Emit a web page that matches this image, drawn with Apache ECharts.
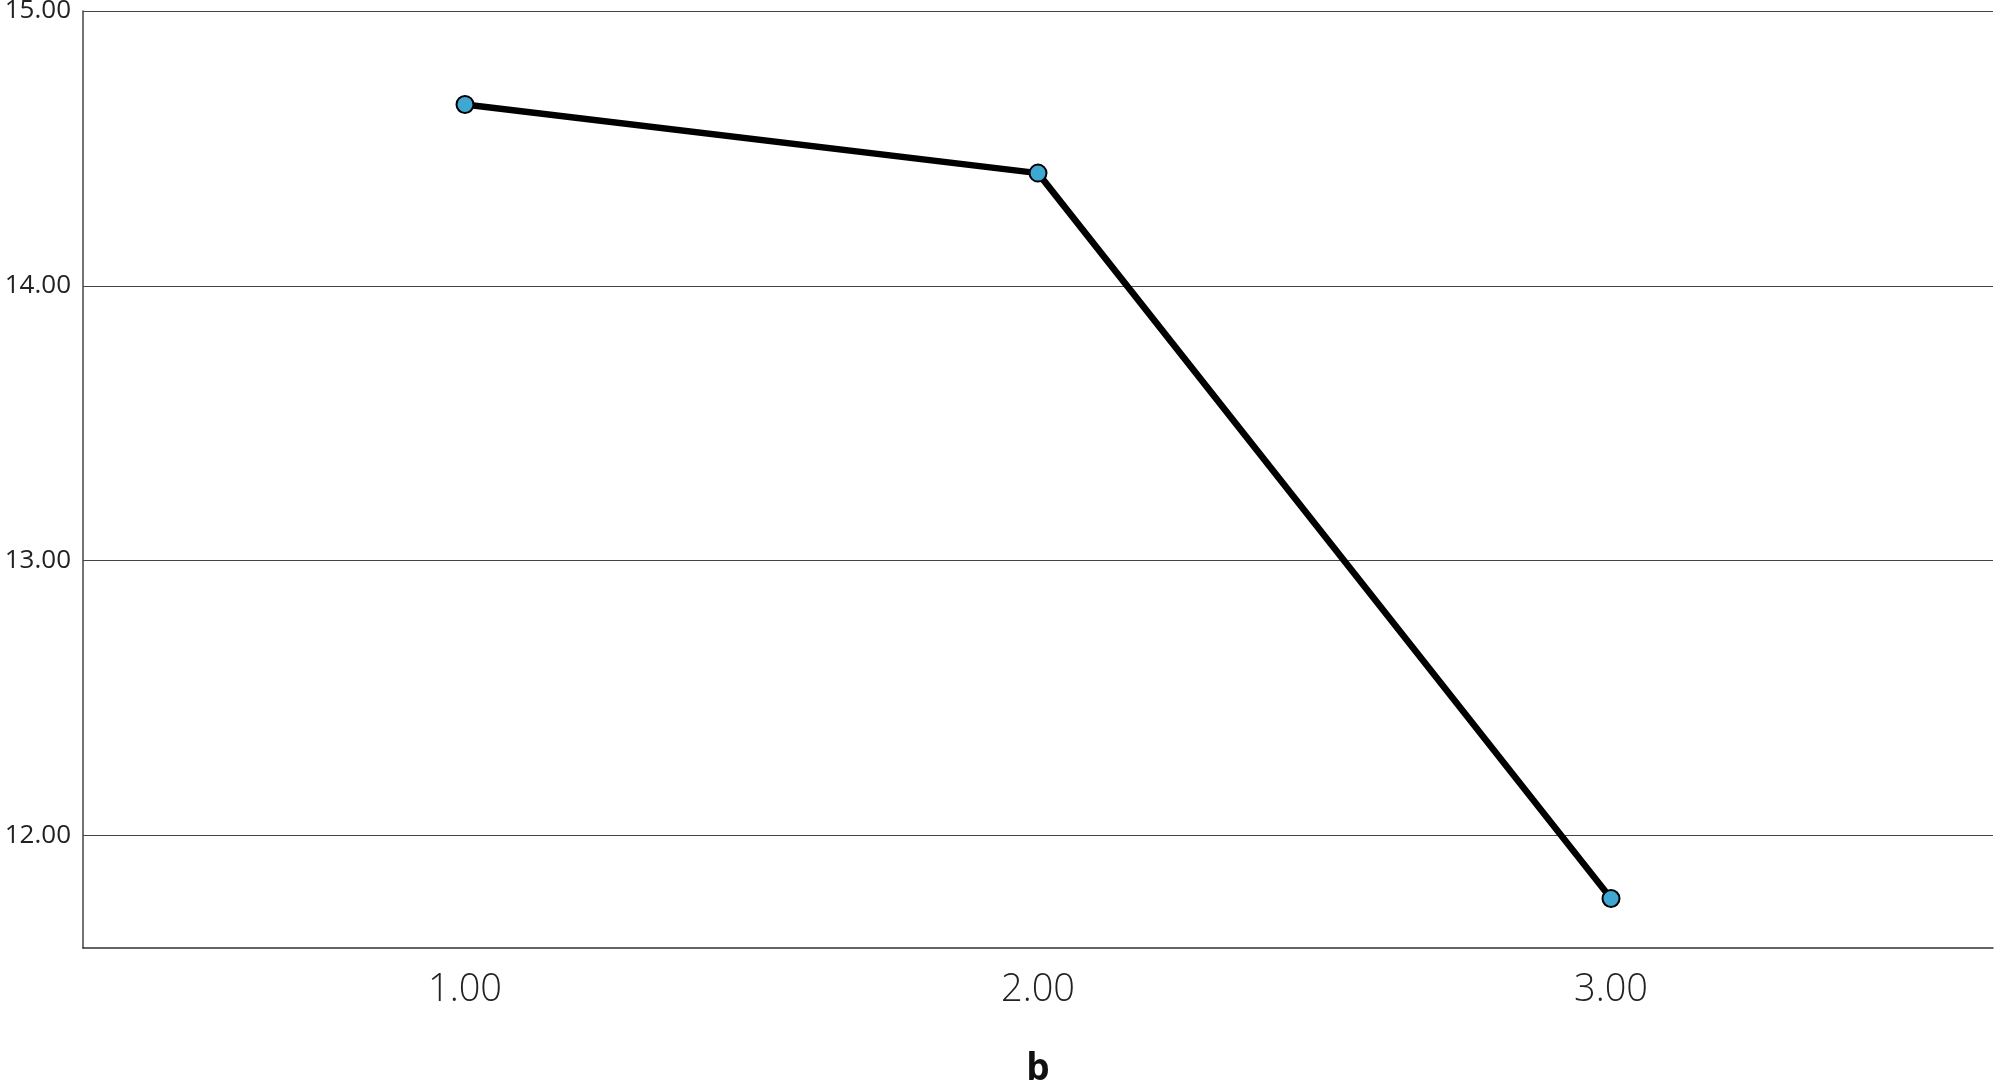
<!DOCTYPE html>
<html>
<head>
<meta charset="utf-8">
<script src="https://cdn.jsdelivr.net/npm/echarts@6/dist/echarts.min.js"></script>
<style>
  html, body { margin: 0; padding: 0; background: #fff; }
  #chart { width: 2000px; height: 1086px; }
</style>
</head>
<body>
<div id="chart"></div>
<script>
  // category values on the x axis (b)
  var groups = [1, 2, 3];
  // mean values
  var means = [14.66, 14.41, 11.77];
  var yTicks = [12, 13, 14, 15];

  var points = groups.map(function (g, i) { return [g, means[i]]; });

  var chart = echarts.init(document.getElementById('chart'));
  chart.setOption({
    animation: false,
    grid: { left: 83, right: 7, top: 11, bottom: 138, containLabel: false, outerBoundsMode: 'none' },
    xAxis: {
      type: 'value',
      min: 1 / 3,
      max: 11 / 3,
      name: 'b',
      nameLocation: 'middle',
      nameGap: 103,
      nameTextStyle: { fontFamily: 'Open Sans', fontWeight: 'bold', fontSize: 37, color: '#111' },
      axisLine: { show: true, lineStyle: { color: '#333', width: 1.5 } },
      axisTick: { show: false },
      splitLine: { show: false },
      axisLabel: {
        customValues: groups,
        formatter: function (v) { return v.toFixed(2); },
        fontFamily: 'Open Sans', fontWeight: 300, fontSize: 38, color: '#222', margin: 23
      }
    },
    yAxis: {
      type: 'value',
      min: 11.59,
      max: 15,
      axisLine: { show: true, lineStyle: { color: '#444', width: 1.5 } },
      axisTick: { show: false, customValues: yTicks },
      splitLine: { show: true, lineStyle: { color: '#444', width: 1.2 } },
      axisLabel: {
        customValues: yTicks,
        formatter: function (v) { return v.toFixed(2); },
        fontFamily: 'Open Sans', fontSize: 26, color: '#222', margin: 12
      }
    },
    series: [{
      type: 'line',
      data: points,
      symbol: 'circle',
      symbolSize: 17,
      lineStyle: { color: '#000', width: 6.5 },
      itemStyle: { color: '#3ea8d2', borderColor: '#000', borderWidth: 2 }
    }]
  });
</script>
</body>
</html>
